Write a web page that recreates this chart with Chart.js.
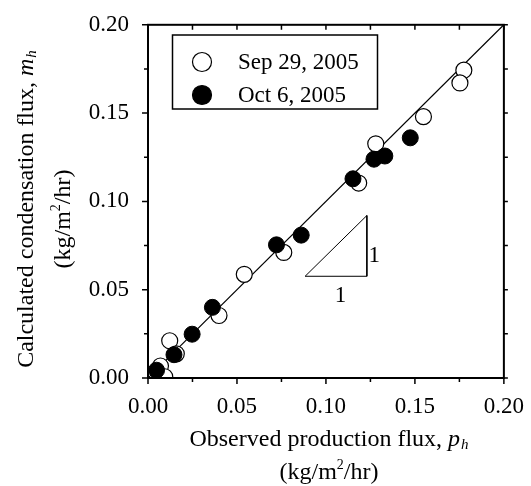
<!DOCTYPE html>
<html>
<head>
<meta charset="utf-8">
<script src="https://cdn.jsdelivr.net/npm/chart.js@4.4.1/dist/chart.umd.min.js"></script>
<style>
  html, body { margin: 0; padding: 0; background: #fff; }
  canvas { display: block; }
</style>
</head>
<body>
<canvas id="c" width="531" height="486"></canvas>
<script>
// ---- Data ----
const sepLabel = "Sep 29, 2005";
const sepX = [0.1775, 0.1753, 0.1548, 0.1280, 0.1184, 0.0763, 0.0541, 0.0399, 0.0122, 0.0159, 0.0070, 0.0094];
const sepY = [0.1743, 0.1671, 0.1480, 0.1326, 0.1104, 0.0711, 0.0587, 0.0354, 0.0211, 0.0137, 0.0068, 0.0007];
const octLabel = "Oct 6, 2005";
const octX = [0.1474, 0.1331, 0.1270, 0.1152, 0.0861, 0.0722, 0.0362, 0.0248, 0.0146, 0.0048];
const octY = [0.1360, 0.1257, 0.1239, 0.1128, 0.0809, 0.0754, 0.0400, 0.0248, 0.0132, 0.0044];
const lineX = [0, 0.2];
const lineY = [0, 0.2];
const triX = [0.0883, 0.1230, 0.1230, 0.0883];
const triY = [0.0576, 0.0920, 0.0576, 0.0576];
const triLabels = [{x: 0.1271, y: 0.069, t: "1"}, {x: 0.1082, y: 0.0466, t: "1"}];
const tickValues = [0, 0.05, 0.10, 0.15, 0.20];
const minorStep = 0.025;

const FONT = "'Liberation Serif', 'Times New Roman', serif";
const zip = (xs, ys) => xs.map((x, i) => ({x: x, y: ys[i]}));

function drawRich(ctx, segs, x, y) {
  let total = 0;
  segs.forEach(s => { ctx.font = s.font; s.w = ctx.measureText(s.t).width + (s.dx || 0); total += s.w; });
  let cx = x - total / 2;
  ctx.textBaseline = 'alphabetic';
  ctx.textAlign = 'left';
  segs.forEach(s => { ctx.font = s.font; ctx.fillText(s.t, cx + (s.dx || 0), y + (s.dy || 0)); cx += s.w; });
}

const decor = {
  id: 'decor',
  afterDatasetsDraw(chart) {
    const ctx = chart.ctx;
    const a = chart.chartArea;
    const xs = chart.scales.x, ys = chart.scales.y;
    ctx.save();
    ctx.strokeStyle = '#000';
    ctx.fillStyle = '#000';
    ctx.lineWidth = 2;
    ctx.strokeRect(a.left, a.top, a.right - a.left, a.bottom - a.top);
    ctx.lineWidth = 1.5;
    for (let i = 0; i <= 8; i++) {
      const v = i * minorStep;
      const major = i % 2 === 0;
      const px = xs.getPixelForValue(v);
      const py = ys.getPixelForValue(v);
      const L = major ? 6 : 4;
      ctx.beginPath();
      ctx.moveTo(px, a.bottom); ctx.lineTo(px, a.bottom + L);
      ctx.moveTo(a.left, py); ctx.lineTo(a.left - L, py);
      ctx.moveTo(px, a.top); ctx.lineTo(px, a.top + 5);
      ctx.moveTo(a.right, py); ctx.lineTo(a.right + 4, py);
      ctx.stroke();
    }
    ctx.font = '23px ' + FONT;
    ctx.textAlign = 'center';
    ctx.textBaseline = 'middle';
    triLabels.forEach(l => ctx.fillText(l.t, xs.getPixelForValue(l.x), ys.getPixelForValue(l.y)));
    ctx.lineWidth = 1.5;
    ctx.strokeRect(172.5, 35, 205, 74);
    const ds = chart.data.datasets;
    const rows = [{d: ds[0], y: 62}, {d: ds[1], y: 95}];
    rows.forEach(r => {
      ctx.beginPath();
      ctx.arc(202, r.y, 9.5, 0, Math.PI * 2);
      ctx.fillStyle = r.d.backgroundColor;
      ctx.fill();
      ctx.lineWidth = 1.2;
      ctx.strokeStyle = '#000';
      ctx.stroke();
      ctx.fillStyle = '#000';
      ctx.font = '23px ' + FONT;
      ctx.textAlign = 'left';
      ctx.textBaseline = 'middle';
      ctx.fillText(r.d.label, 238, r.y + 1);
    });
    ctx.restore();
  },
  afterDraw(chart) {
    const ctx = chart.ctx;
    ctx.save();
    ctx.fillStyle = '#000';
    const N = '24px ' + FONT, I = 'italic 24px ' + FONT, S = 'italic 15px ' + FONT, P = '14px ' + FONT;
    drawRich(ctx, [{t: 'Observed production flux, ', font: N}, {t: 'p', font: I}, {t: 'h', font: S, dy: 3, dx: 1}], 329, 446);
    drawRich(ctx, [{t: '(kg/m', font: N}, {t: '2', font: P, dy: -10}, {t: '/hr)', font: N}], 329, 479);
    ctx.save();
    ctx.translate(33, 209);
    ctx.rotate(-Math.PI / 2);
    drawRich(ctx, [{t: 'Calculated condensation flux, ', font: N}, {t: 'm', font: I}, {t: 'h', font: S, dy: 3, dx: 1}], 0, 0);
    ctx.restore();
    ctx.save();
    ctx.translate(70, 219);
    ctx.rotate(-Math.PI / 2);
    drawRich(ctx, [{t: '(kg/m', font: N}, {t: '2', font: P, dy: -10}, {t: '/hr)', font: N}], 0, 0);
    ctx.restore();
    ctx.restore();
  }
};

new Chart(document.getElementById('c'), {
  type: 'scatter',
  data: {
    datasets: [
      {label: sepLabel, data: zip(sepX, sepY), pointRadius: 8, pointHoverRadius: 8,
       backgroundColor: '#ffffff', borderColor: '#000000', borderWidth: 1.2, clip: 0, order: 1},
      {label: octLabel, data: zip(octX, octY), pointRadius: 8, pointHoverRadius: 8,
       backgroundColor: '#000000', borderColor: '#000000', borderWidth: 1, clip: 0, order: 0},
      {type: 'line', label: 'y=x', data: zip(lineX, lineY), borderColor: '#000', borderWidth: 1.2,
       pointRadius: 0, fill: false, showLine: true, order: 2},
      {type: 'line', label: 'slope', data: zip(triX, triY), borderColor: '#000', borderWidth: 1,
       pointRadius: 0, fill: false, showLine: true, tension: 0, order: 2}
    ]
  },
  options: {
    responsive: false,
    animation: false,
    devicePixelRatio: 1,
    layout: {padding: {left: 0, top: 18, right: 22, bottom: 0}},
    plugins: {legend: {display: false}, tooltip: {enabled: false}},
    scales: {
      x: {
        type: 'linear', min: 0, max: 0.2,
        afterFit: s => { s.height = 108; },
        afterBuildTicks: s => { s.ticks = tickValues.map(v => ({value: v})); },
        grid: {display: false}, border: {display: false},
        ticks: {color: '#000', font: {family: FONT, size: 23}, padding: 7, maxRotation: 0,
                callback: v => v.toFixed(2)}
      },
      y: {
        type: 'linear', min: 0, max: 0.2,
        afterFit: s => { s.width = 148; },
        afterBuildTicks: s => { s.ticks = tickValues.map(v => ({value: v})); },
        grid: {display: false}, border: {display: false},
        ticks: {color: '#000', font: {family: FONT, size: 23}, padding: 11,
                callback: v => v.toFixed(2)}
      }
    }
  },
  plugins: [decor]
});
</script>
</body>
</html>
